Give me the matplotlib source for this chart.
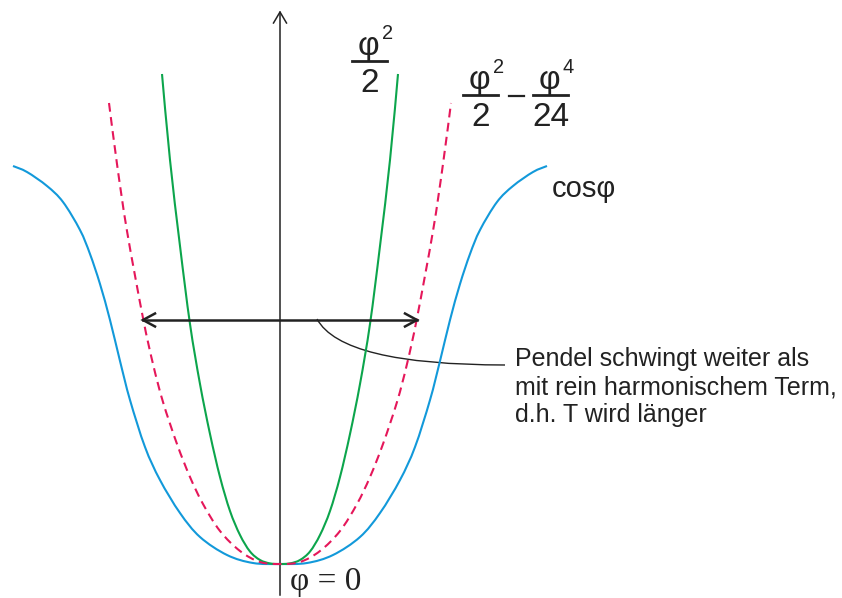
import numpy as np
import matplotlib
matplotlib.use("Agg")
import matplotlib.pyplot as plt
from matplotlib.path import Path
from matplotlib.patches import PathPatch

# Potential curves around phi = 0 (half-curves, mirrored about the axis).
# phi offsets and heights of each curve.
green_phi = [0, 10, 20, 30, 40, 50, 60, 70, 80, 90, 100, 110, 118]
green_val = [0, 0.6, 4, 12.5, 29, 53, 87, 130, 180, 240, 318, 404, 490]

red_phi = [0, 20, 40, 60, 77, 90, 103, 117, 127, 137, 153, 163, 171]
red_val = [0, 2, 13, 33, 60, 87, 120, 162, 200, 246, 333, 400, 461]

blue_phi = [0, 27, 53, 80, 100, 120, 135, 150, 160, 170, 180, 190, 200, 217, 233, 253, 267]
blue_val = [0, 1, 9, 27, 51, 84, 117, 164, 203, 244, 280, 310, 334, 362, 378, 392, 398]

# amplitude of the swing (horizontal double arrow)
swing_phi = 137
swing_val = 244

label_green = ("φ", "2", "2")
label_red = (("φ", "2", "2"), ("φ", "4", "24"))
label_blue = "cosφ"
label_zero = "φ = 0"
note_lines = ["Pendel schwingt weiter als",
              "mit rein harmonischem Term,",
              "d.h. T wird länger"]

W, H = 842, 598
fig = plt.figure(figsize=(W / 100, H / 100), dpi=100)
ax = fig.add_axes([0, 0, 1, 1])
ax.set_xlim(-280, W - 280)
ax.set_ylim(-34, H - 34)
ax.axis("off")


def mirrored(phi, val):
    phi = np.asarray(phi, float)
    val = np.asarray(val, float)
    x = np.concatenate([-phi[::-1], phi[1:]])
    y = np.concatenate([val[::-1], val[1:]])
    return np.column_stack([x, y])


def smooth_path(pts):
    # Catmull-Rom through the points, handed to matplotlib as cubic Bezier segments
    p = np.vstack([pts[0], pts, pts[-1]])
    verts = [tuple(pts[0])]
    codes = [Path.MOVETO]
    for i in range(1, len(p) - 2):
        c1 = p[i] + (p[i + 1] - p[i - 1]) / 6
        c2 = p[i + 1] - (p[i + 2] - p[i]) / 6
        verts += [tuple(c1), tuple(c2), tuple(p[i + 1])]
        codes += [Path.CURVE4] * 3
    return Path(verts, codes)


BLUE = "#1299da"
GREEN = "#0ca54c"
RED = "#e5175a"
INK = "#222222"

ax.add_patch(PathPatch(smooth_path(mirrored(blue_phi, blue_val)), fill=False,
                       edgecolor=BLUE, lw=1.5, capstyle="butt", zorder=3))
ax.add_patch(PathPatch(smooth_path(mirrored(green_phi, green_val)), fill=False,
                       edgecolor=GREEN, lw=1.5, capstyle="butt", zorder=3))
ax.add_patch(PathPatch(smooth_path(mirrored(red_phi, red_val)), fill=False,
                       edgecolor=RED, lw=1.5, linestyle=(0, (4.2, 2.6)),
                       capstyle="butt", zorder=3))

# vertical axis with open arrow head
ax.plot([0, 0], [-31, 552], color=INK, lw=1.1, zorder=2)
ax.plot([-6.5, 0, 6.5], [541, 552, 541], color=INK, lw=1.1,
        solid_joinstyle="miter", zorder=2)

# double arrow marking the swing amplitude
ax.plot([-swing_phi, swing_phi], [swing_val, swing_val], color=INK, lw=1.8, zorder=4)
for s in (-1, 1):
    ax.plot([s * (swing_phi - 12), s * swing_phi, s * (swing_phi - 12)],
            [swing_val + 6.5, swing_val, swing_val - 6.5],
            color=INK, lw=1.8, solid_joinstyle="miter", zorder=4)

# leader line from the arrow to the note
verts = [(37, 245), (62, 199), (225, 199)]
path = Path(verts, [Path.MOVETO, Path.CURVE3, Path.CURVE3])
ax.add_patch(PathPatch(path, fill=False, edgecolor=INK, lw=1.0, zorder=2))

SANS = ["Liberation Sans", "DejaVu Sans"]
SERIF = ["Liberation Serif", "DejaVu Serif"]


def px(xp, yp):
    return xp / W, 1 - yp / H


def hline(x0, x1, yp, lw):
    fig.add_artist(plt.Line2D([x0 / W, x1 / W], [1 - yp / H, 1 - yp / H],
                              color=INK, lw=lw))


def fraction(xc, ybar, num, sup, den, width, size=24):
    # numerator symbol with exponent, fraction bar, denominator
    fig.text(*px(xc - 1, ybar - 6), num, family=SANS, fontsize=size,
             ha="center", va="baseline", color=INK)
    fig.text(*px(xc + 18, ybar - 22), sup, family=SANS, fontsize=size * 0.6,
             ha="center", va="baseline", color=INK)
    hline(xc - width / 2, xc + width / 2, ybar, 2.0)
    fig.text(*px(xc, ybar + 31), den, family=SANS, fontsize=size,
             ha="center", va="baseline", color=INK)


fraction(369.5, 61, *label_green, width=35)
fraction(480.5, 95, *label_red[0], width=35)
hline(509, 524, 96, 1.6)
fraction(550.5, 95, *label_red[1], width=35)

fig.text(*px(552, 197), label_blue, family=SANS, fontsize=21,
         ha="left", va="baseline", color=INK)
fig.text(*px(290, 590), label_zero, family=SERIF, fontsize=24,
         ha="left", va="baseline", color=INK)
for i, line in enumerate(note_lines):
    fig.text(*px(515, 366 + 28 * i), line, family=SANS, fontsize=18,
             ha="left", va="baseline", color=INK)

fig.savefig("out.png", dpi=100)
